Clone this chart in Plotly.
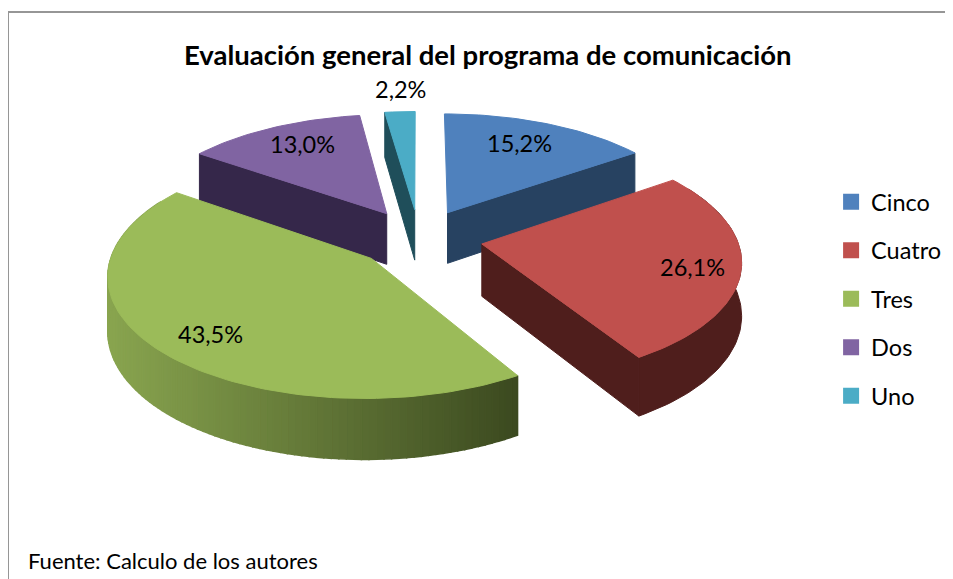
import numpy as np
import plotly.graph_objects as go

categories = ['Cinco', 'Cuatro', 'Tres', 'Dos', 'Uno']
values = [15.2, 26.1, 43.5, 13.0, 2.2]
label_x = [519, 692, 210, 302, 400]
label_y = [143, 267, 334, 144, 89]

colors = ['#4f81bd', '#c0504d', '#9bbb59', '#8064a2', '#4bacc6']
wall_colors = ['#274261', '#4f1e1c', '#4b5c2b', '#35274a', '#1f4e5a']
green_left = np.array([138, 166, 80])
green_right = np.array([60, 74, 32])

# fake 3d camera, everything in page pixels
CX, CY = 419, 238
SCALE, TILT, PERSP = 255, 0.459, 0.125
DEPTH, EXPLODE = 52, 0.25
FONT = 'Lato'
# the page body has an 8px margin, axes are shifted so that units are window pixels
PAGE_MARGIN = 8


def project(u, v, down=0):
    w = 1 + PERSP * v
    return CX + SCALE * u / w, CY - SCALE * TILT * v / w + down * DEPTH / w


def poly(fig, xs, ys, color, width=1):
    xs, ys = list(xs), list(ys)
    fig.add_trace(go.Scatter(
        x=xs + xs[:1], y=ys + ys[:1], mode='lines', fill='toself', fillcolor=color,
        line=dict(color=color, width=width), hoverinfo='skip', showlegend=False
    ))


def rgb(c):
    return 'rgb(%d, %d, %d)' % tuple(c)


fig = go.Figure()

total = sum(values)
edges = np.radians(np.cumsum([0] + values) / total * 360)

# back slices first so that the front ones paint over them
for i in [4, 3, 0, 1, 2]:
    start, end = edges[i], edges[i + 1]
    mid = (start + end) / 2
    ou, ov = EXPLODE * np.sin(mid), EXPLODE * np.cos(mid)
    th = np.linspace(start, end, max(int((end - start) * 40), 4))
    rim_u, rim_v = ou + np.sin(th), ov + np.cos(th)

    # outer wall, green is cut in strips for the shading, the rest is flat
    front = np.cos(th) <= 0.5
    if categories[i] == 'Tres':
        idx = np.flatnonzero(front)
        for j in idx[:-1]:
            u = np.array([rim_u[j], rim_u[j + 1], rim_u[j + 1], rim_u[j]])
            v = np.array([rim_v[j], rim_v[j + 1], rim_v[j + 1], rim_v[j]])
            x, y = project(u, v, np.array([0, 0, 1, 1]))
            f = np.clip((x.mean() - 105) / (517 - 105), 0, 1)
            poly(fig, x, y, rgb(green_left + (green_right - green_left) * f), width=1.5)
    elif front.sum() > 1:
        x0, y0 = project(rim_u[front], rim_v[front])
        x1, y1 = project(rim_u[front], rim_v[front], 1)
        poly(fig, np.r_[x0, x1[::-1]], np.r_[y0, y1[::-1]], wall_colors[i])

    # radial walls, only the ones that face the viewer
    for ang, normal in [(start, start - np.pi / 2), (end, end + np.pi / 2)]:
        if np.cos(normal) < 0:
            u = [ou, ou + np.sin(ang), ou + np.sin(ang), ou]
            v = [ov, ov + np.cos(ang), ov + np.cos(ang), ov]
            x, y = project(np.array(u), np.array(v), np.array([0, 0, 1, 1]))
            poly(fig, x, y, wall_colors[i])

    # top face
    x, y = project(np.r_[ou, rim_u], np.r_[ov, rim_v])
    poly(fig, x, y, colors[i])

# legend
for name, color in zip(categories, colors):
    fig.add_trace(go.Scatter(
        x=[None], y=[None], mode='markers', name=name, legendgroup=name,
        marker=dict(symbol='square', size=16, color=color)
    ))

for val, lx, ly in zip(values, label_x, label_y):
    fig.add_annotation(x=lx, y=ly, text=f'{val:.1f}%'.replace('.', ','), showarrow=False,
                       font=dict(family=FONT, size=23.5, color='black'))

fig.add_annotation(x=487, y=54, text='<b>Evaluación general del programa de comunicación</b>',
                   showarrow=False, font=dict(family=FONT, size=27.5, color='black'))
fig.add_annotation(x=26, y=560, text='Fuente: Calculo de los autores', showarrow=False, xanchor='left',
                   font=dict(family=FONT, size=22, color='black'))

fig.add_shape(type='rect', x0=8, y0=12, x1=970, y1=600, line=dict(color='#969696', width=2),
              fillcolor='rgba(0,0,0,0)', layer='below')

fig.update_layout(
    width=953 - PAGE_MARGIN, height=579 - PAGE_MARGIN, margin=dict(l=0, r=0, t=0, b=0),
    plot_bgcolor='white', paper_bgcolor='white',
    xaxis=dict(range=[PAGE_MARGIN, 953], visible=False, fixedrange=True),
    yaxis=dict(range=[579, PAGE_MARGIN], visible=False, fixedrange=True),
    legend=dict(x=0.871, y=0.699, xanchor='left', yanchor='top', font=dict(family=FONT, size=23.5, color='black'),
                tracegroupgap=15, bgcolor='rgba(0,0,0,0)'),
)

fig.write_html("out.html")
